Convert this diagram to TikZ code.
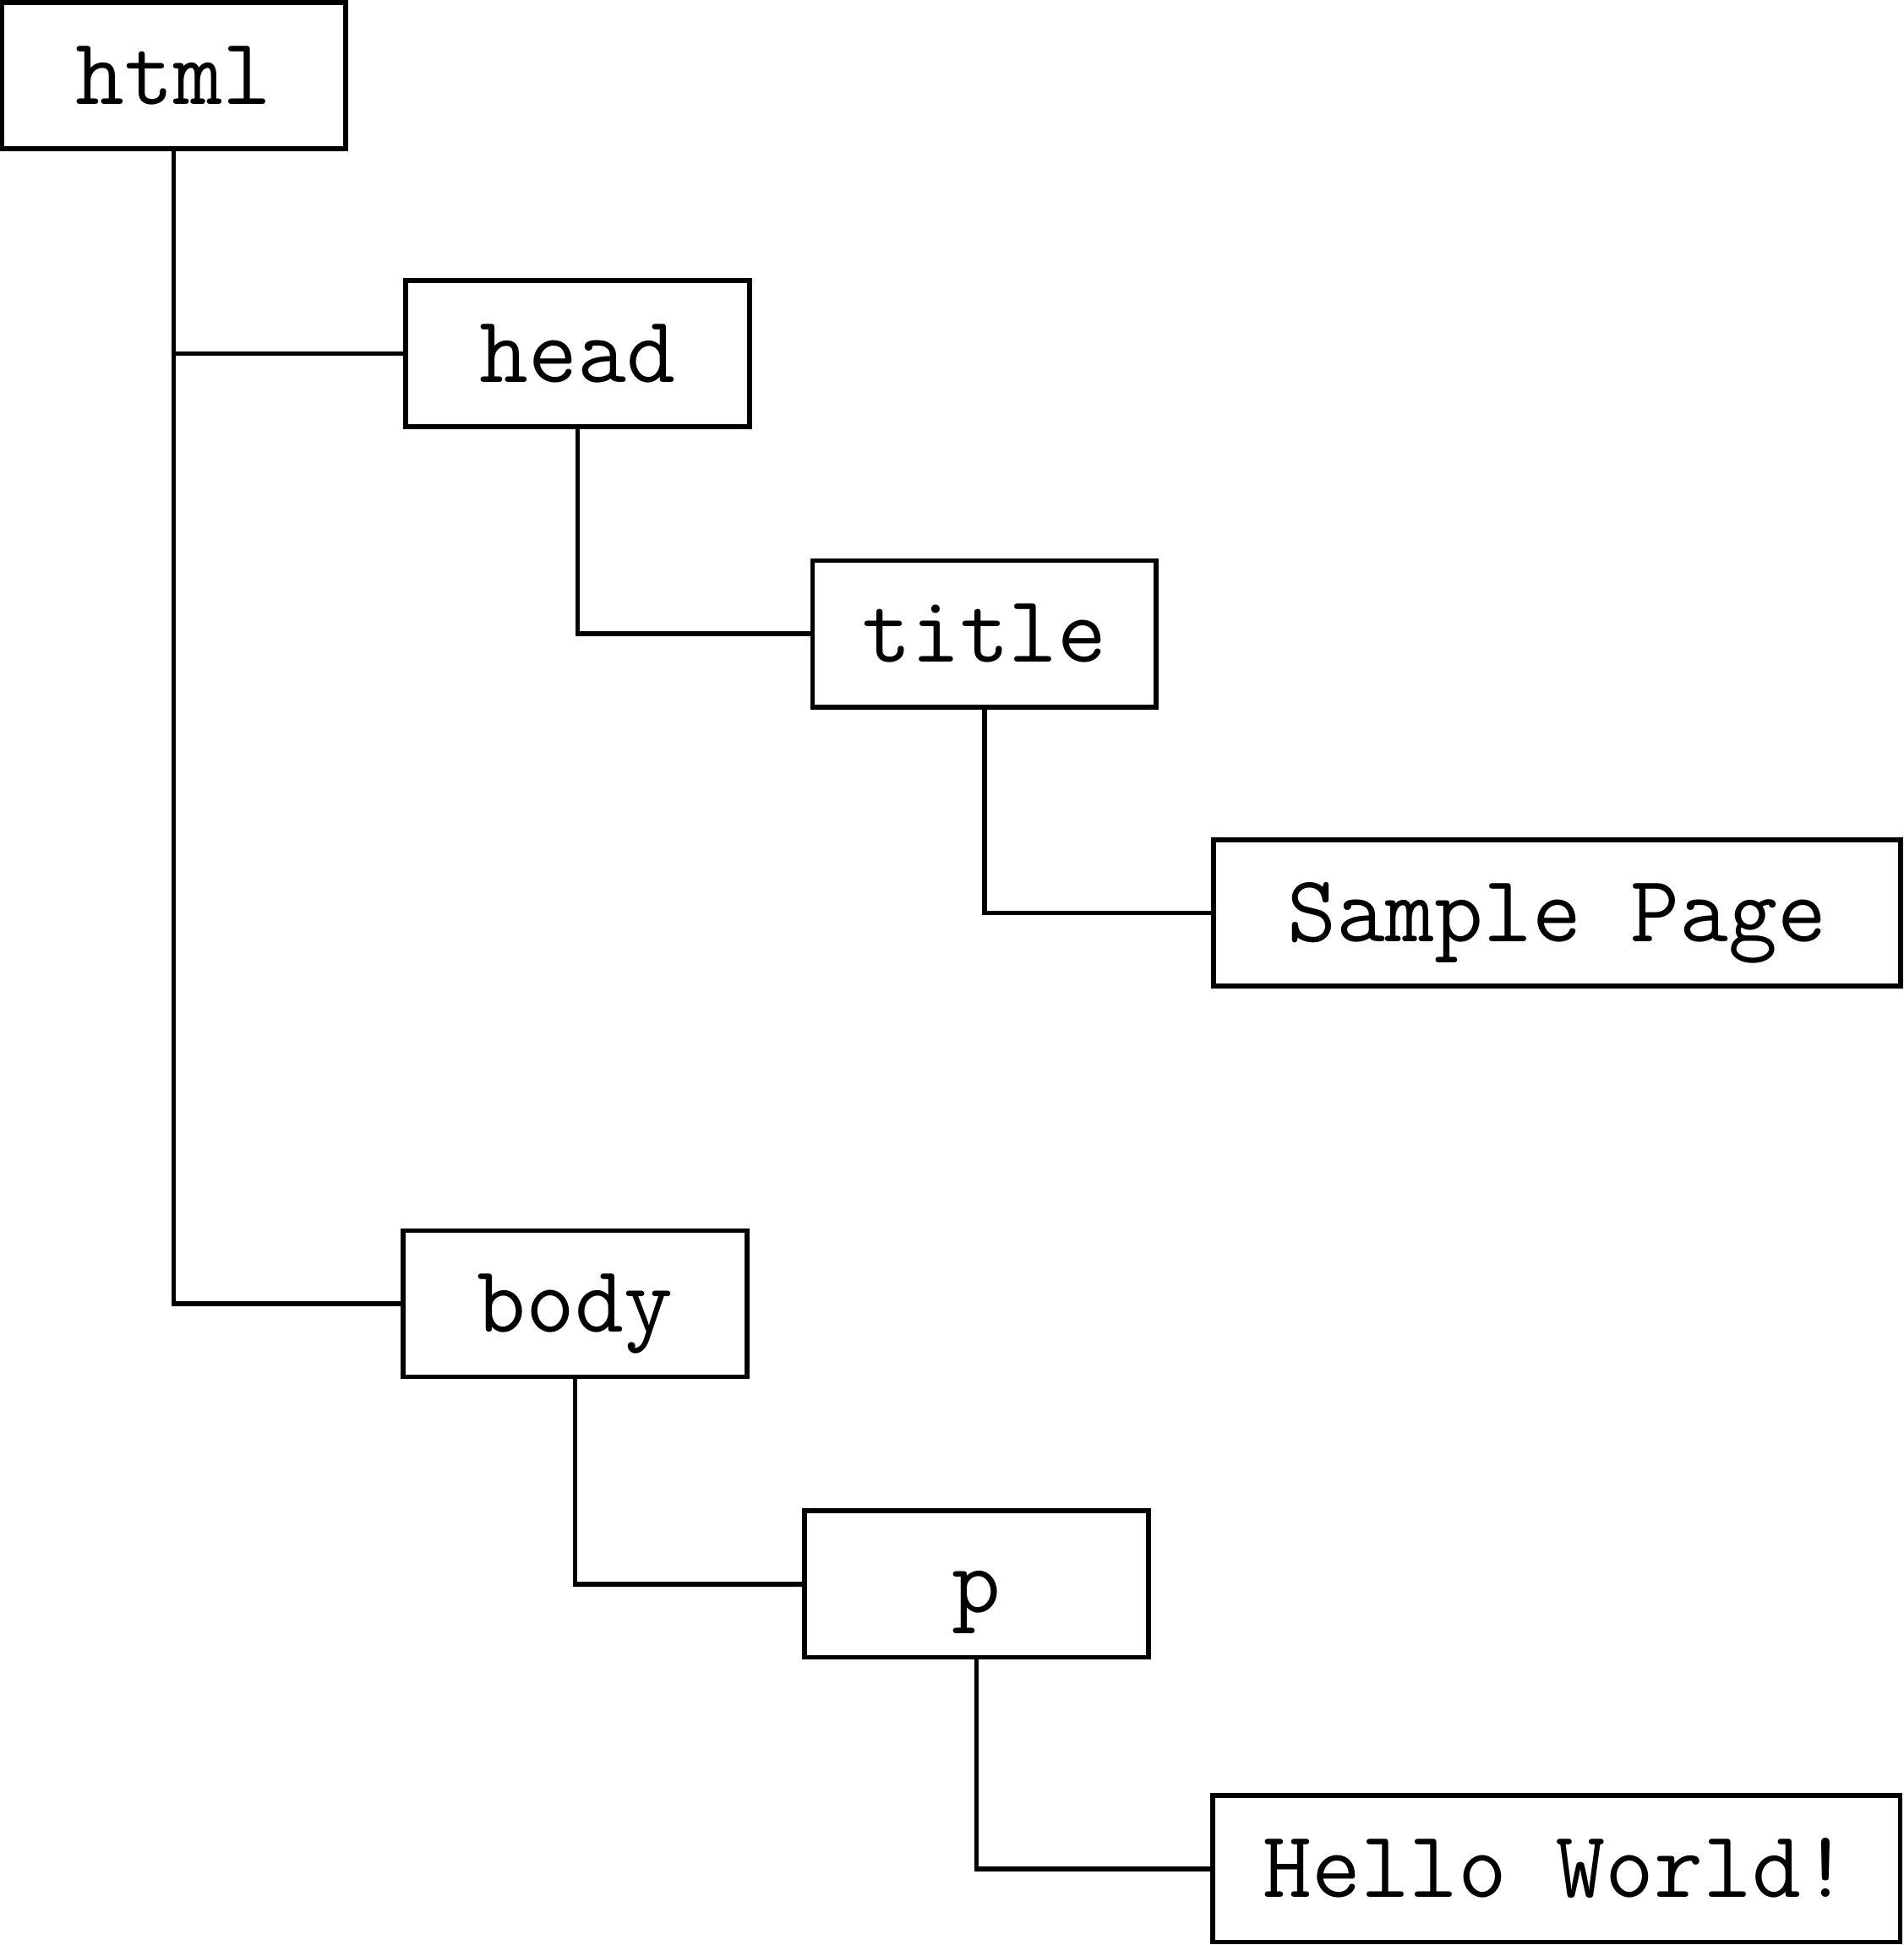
\documentclass[tikz,border=0pt]{standalone}
\usepackage{tikz}
\usetikzlibrary{positioning}

\begin{document}
\begin{tikzpicture}[
    every node/.style={outer sep=0pt, inner sep=0pt},
    tag/.style={draw, line width=1.1pt, minimum width=2.77cm, minimum height=1.18cm,
        font=\ttfamily\fontsize{21.8}{26}\selectfont, text height=0.58cm, text depth=0.12cm},
    textNode/.style={tag, minimum width=5.54cm},
    branch/.style={draw, line width=1.1pt}
]
    \useasboundingbox (0,0) rectangle (15.34,-15.68);

    % Element nodes
    \node (html) [tag] at (1.40,-0.61) {html};
    \node (head) [tag] at (4.655,-2.85) {head};
    \node (title) [tag] at (7.935,-5.11) {title};
    \node (sample) [textNode] at (12.55,-7.36) {Sample Page};
    \node (body) [tag] at (4.635,-10.51) {body};
    \node (para) [tag] at (7.87,-12.77) {p};
    \node (hello) [textNode] at (12.545,-15.065) {Hello World!};

    % Tree branches
    \draw [branch] (html.south) |- (body.west);
    \draw [branch] (html.south |- head.west) -- (head.west);
    \draw [branch] (head.south) |- (title.west);
    \draw [branch] (title.south) |- (sample.west);
    \draw [branch] (body.south) |- (para.west);
    \draw [branch] (para.south) |- (hello.west);
\end{tikzpicture}
\end{document}
